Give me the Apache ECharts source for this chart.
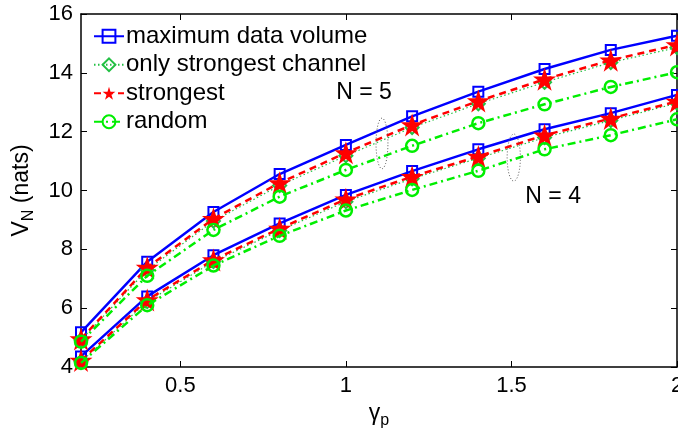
<!DOCTYPE html>
<html><head><meta charset="utf-8">
<script src="https://cdn.jsdelivr.net/npm/echarts@6/dist/echarts.min.js"></script>
<style>html,body{margin:0;padding:0;background:#fff}#c{width:678px;height:433px}</style>
</head><body><div id="c"></div>
<script>
const gammaP = [0.2, 0.4, 0.6, 0.8, 1.0, 1.2, 1.4, 1.6, 1.8, 2.0];
const xTicks = [0.5, 1, 1.5, 2];
const seriesNames = ['maximum data volume', 'only strongest channel', 'strongest', 'random'];
// N = 5
const n5Max      = [5.18, 7.58, 9.27, 10.56, 11.55, 12.52, 13.36, 14.13, 14.78, 15.26];
const n5Only     = [4.92, 7.30, 8.96, 10.17, 11.18, 12.14, 12.95, 13.68, 14.35, 14.86];
const n5Strong   = [4.95, 7.38, 9.04, 10.26, 11.28, 12.23, 13.04, 13.78, 14.43, 14.95];
const n5Random   = [4.86, 7.10, 8.66, 9.79, 10.70, 11.52, 12.29, 12.93, 13.52, 14.02];
// N = 4
const n4Max      = [4.36, 6.40, 7.80, 8.88, 9.85, 10.66, 11.40, 12.08, 12.63, 13.25];
const n4Only     = [4.18, 6.22, 7.58, 8.64, 9.62, 10.40, 11.10, 11.80, 12.38, 12.97];
const n4Strong   = [4.22, 6.28, 7.64, 8.71, 9.70, 10.47, 11.16, 11.88, 12.45, 13.03];
const n4Random   = [4.14, 6.10, 7.45, 8.46, 9.32, 10.02, 10.67, 11.40, 11.88, 12.42];
const annotations = [
  { text: 'N = 5', x: 1.055, y: 13.31 },
  { text: 'N = 4', x: 1.626, y: 9.78 }
];
const ellipses = [
  { x: 1.109, y: 11.60, rx: 0.018, ry: 0.86 },
  { x: 1.507, y: 11.12, rx: 0.020, ry: 0.80 }
];

const pairs = v => gammaP.map((x, i) => [x, v[i]]);
const FONT = '"Liberation Sans", Arial, Helvetica, sans-serif';

const styles = {
  'maximum data volume': { color: '#0000ff', symbol: 'rect', size: 10, line: { width: 2.5, type: 'solid' }, fill: 'rgba(0,0,0,0)', bw: 2, z: 2 },
  'only strongest channel': { color: '#22c043', symbol: 'diamond', size: 13, line: { width: 1.2, type: [1.5, 2.5] }, fill: 'rgba(0,0,0,0)', bw: 2, z: 3 },
  'strongest': { color: '#ff0000', symbol: 'path://M0,-10L2.245,-3.09L9.51,-3.09L3.633,1.18L5.878,8.09L0,3.82L-5.878,8.09L-3.633,1.18L-9.51,-3.09L-2.245,-3.09Z', size: 23, line: { width: 2.5, type: [7, 5] }, fill: '#ff0000', bw: 0, z: 4 },
  'random': { color: '#00ee00', symbol: 'circle', size: 12, line: { width: 2.5, type: [8, 4, 2, 4] }, fill: 'rgba(0,0,0,0)', bw: 2.5, z: 5 }
};

function mk(name, vals) {
  const s = styles[name];
  return {
    name, type: 'line', data: pairs(vals), z: s.z,
    symbol: s.symbol, symbolSize: s.size, showAllSymbol: true,
    lineStyle: { color: s.color, width: s.line.width, type: s.line.type },
    itemStyle: { color: s.fill, borderColor: s.color, borderWidth: s.bw },
    emphasis: { disabled: true }, animation: false
  };
}

const chart = echarts.init(document.getElementById('c'), null, { renderer: 'canvas' });
const axisCommon = {
  axisLine: { show: true, lineStyle: { color: '#000', width: 1.5 } },
  axisTick: { show: true, inside: true, length: 6, lineStyle: { color: '#000', width: 1 } },
  splitLine: { show: false }
};
chart.setOption({
  backgroundColor: '#fff',
  animation: false,
  grid: { left: 81, right: 1, top: 14, bottom: 66, containLabel: false, outerBoundsMode: 'none' },
  legend: {
    orient: 'vertical', left: 93, top: 22, itemGap: 0, padding: 0,
    itemWidth: 30, itemHeight: 16,
    data: seriesNames,
    textStyle: { fontFamily: FONT, fontSize: 24, color: '#000', lineHeight: 28.5, padding: [0, 0, 0, -3] },
    selectedMode: false
  },
  xAxis: [
    Object.assign({}, axisCommon, {
      type: 'value', min: 0.2, max: 2, position: 'bottom',
      axisTick: Object.assign({}, axisCommon.axisTick, { customValues: xTicks }),
      axisLabel: { customValues: xTicks, fontFamily: FONT, fontSize: 22, color: '#000', margin: 8, formatter: v => String(v) },
      name: '{g|γ}{p|p}', nameLocation: 'middle', nameGap: 30,
      nameTextStyle: { rich: { g: { fontFamily: FONT, fontSize: 23, color: '#000' }, p: { fontFamily: FONT, fontSize: 16, color: '#000', padding: [14, 0, 0, 0] } } }
    }),
    Object.assign({}, axisCommon, {
      type: 'value', min: 0.2, max: 2, position: 'top',
      axisTick: Object.assign({}, axisCommon.axisTick, { customValues: xTicks }),
      axisLabel: { show: false }
    })
  ],
  yAxis: [
    Object.assign({}, axisCommon, {
      type: 'value', min: 4, max: 16, interval: 2, position: 'left',
      axisLabel: { fontFamily: FONT, fontSize: 22, color: '#000', margin: 8 },
      name: '{v|V}{n|N}{v| (nats)}', nameLocation: 'middle', nameGap: 44, nameRotate: 90,
      nameTextStyle: { rich: { v: { fontFamily: FONT, fontSize: 23, color: '#000' }, n: { fontFamily: FONT, fontSize: 16, color: '#000', padding: [14, 0, 0, 0] } } }
    }),
    Object.assign({}, axisCommon, {
      type: 'value', min: 4, max: 16, interval: 2, position: 'right',
      axisLabel: { show: false }
    })
  ],
  series: [
    mk('maximum data volume', n5Max),
    mk('only strongest channel', n5Only),
    mk('strongest', n5Strong),
    mk('random', n5Random),
    mk('maximum data volume', n4Max),
    mk('only strongest channel', n4Only),
    mk('strongest', n4Strong),
    mk('random', n4Random)
  ]
});

const gfx = [];
annotations.forEach(a => {
  const p = chart.convertToPixel({ gridIndex: 0 }, [a.x, a.y]);
  gfx.push({ type: 'text', x: p[0], y: p[1], z: 10,
    style: { text: a.text, fontFamily: FONT, fontSize: 23, fill: '#000', align: 'center', verticalAlign: 'middle' } });
});
ellipses.forEach(e => {
  const pts = [];
  for (let k = 0; k < 48; k++) {
    const t = k / 48 * Math.PI * 2;
    pts.push(chart.convertToPixel({ gridIndex: 0 }, [e.x + e.rx * Math.cos(t), e.y + e.ry * Math.sin(t)]));
  }
  gfx.push({ type: 'polygon', z: 10, shape: { points: pts },
    style: { fill: 'none', stroke: '#555', lineWidth: 1, lineDash: [1, 2] } });
});
chart.setOption({ graphic: gfx });
</script>
</body></html>
